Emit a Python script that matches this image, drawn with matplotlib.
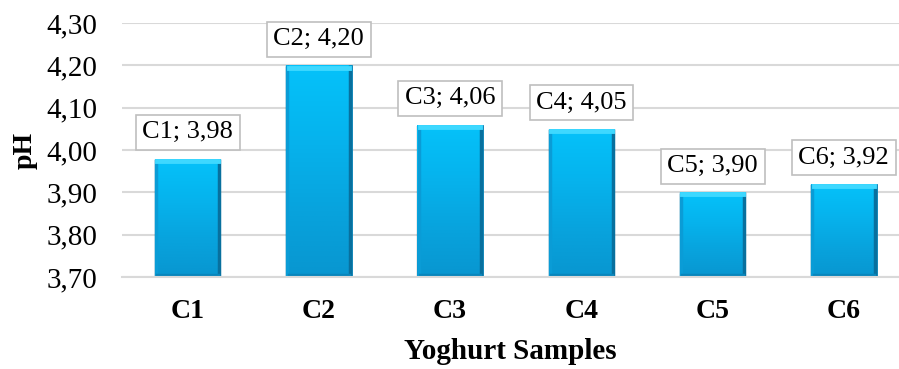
import numpy as np
import matplotlib
matplotlib.use('Agg')
import matplotlib.pyplot as plt
from matplotlib.colors import LinearSegmentedColormap

plt.rcParams['font.family'] = ['Liberation Serif', 'DejaVu Serif']

# pH of the yoghurt samples
samples = ['C1', 'C2', 'C3', 'C4', 'C5', 'C6']
ph = [3.98, 4.20, 4.06, 4.05, 3.90, 3.92]
yticks = [3.70, 3.80, 3.90, 4.00, 4.10, 4.20, 4.30]

fig = plt.figure(figsize=(8.99, 3.69), dpi=100)
ax = fig.add_axes([0.1357, 0.2493, 0.8643, 0.688])

x = np.arange(len(samples))
width = 0.5
ymin = 3.70

bars = ax.bar(x, np.array(ph) - ymin, width, bottom=ymin, color='#08AEE8',
              edgecolor='#0A85B8', linewidth=0.6, zorder=2)

# vertical gradient inside each bar
grad = LinearSegmentedColormap.from_list('blu', ['#0896D0', '#08A4DE', '#06B4EE', '#05C2FA'])
g = np.linspace(0, 1, 256).reshape(-1, 1)
for b, v in zip(bars, ph):
    x0 = b.get_x()
    # soft shadow round the bar
    ax.bar(b.get_x() + width / 2, v - ymin, width * 1.03, bottom=ymin - 0.003,
           color='#000000', alpha=0.08, lw=0, zorder=1.9)
    im = ax.imshow(g, cmap=grad, origin='lower', aspect='auto',
                   extent=[x0, x0 + width, ymin, v], zorder=2.1)
    im.set_clip_path(b)
    # bevel: lighter top, darker right side
    ax.plot([x0 + 0.01, x0 + 0.01], [ymin, v], color='#0A9CD6', lw=2.5, zorder=2.2, solid_capstyle='butt')
    ax.plot([x0 + width - 0.012, x0 + width - 0.012], [ymin, v], color='#08709E', lw=2.5, zorder=2.2, solid_capstyle='butt')
    ax.plot([x0 + 0.02, x0 + width - 0.02], [v - 0.005, v - 0.005], color='#3ED8FF', lw=3.5, zorder=2.2)
    ax.plot([x0 + 0.02, x0 + width - 0.02], [ymin + 0.004, ymin + 0.004], color='#0886BC', lw=2.5, zorder=2.2)

for xi, name, v in zip(x, samples, ph):
    lbl = '%s; %s' % (name, ('%.2f' % v).replace('.', ','))
    ax.annotate(lbl, (xi, v), xytext=(0, 11), textcoords='offset points',
                ha='center', va='bottom', fontsize=19, zorder=5,
                bbox=dict(boxstyle='square,pad=0.25', fc='white', ec='#BFBFBF', lw=1.2))

ax.set_ylim(3.70, 4.30)
ax.set_xlim(-0.5, 5.42)
ax.set_yticks(yticks)
ax.set_yticklabels([('%.2f' % t).replace('.', ',') for t in yticks], fontsize=21)
ax.set_xticks(x)
ax.set_xticklabels(samples, fontsize=20, fontweight='bold')
ax.tick_params(length=0)
ax.tick_params(axis='x', pad=16)
ax.tick_params(axis='y', pad=18)
ax.yaxis.grid(True, color='#D9D9D9', lw=1.5, zorder=0)
ax.set_axisbelow(True)
for s in ['left', 'right', 'top']:
    ax.spines[s].set_visible(False)
ax.spines['bottom'].set_color('#D9D9D9')
ax.spines['bottom'].set_linewidth(1.5)

ax.set_ylabel('pH', fontsize=20, fontweight='bold', labelpad=6)
ax.set_xlabel('Yoghurt Samples', fontsize=21, fontweight='bold', labelpad=10)

fig.savefig('out.png', dpi=100)
